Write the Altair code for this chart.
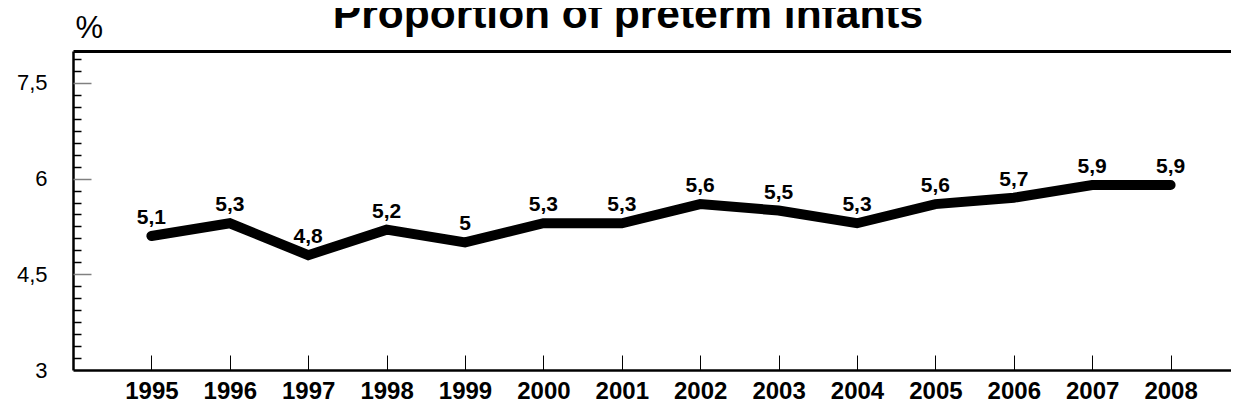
import altair as alt
import pandas as pd

years = [1995, 1996, 1997, 1998, 1999, 2000, 2001, 2002, 2003, 2004, 2005, 2006, 2007, 2008]
values = [5.1, 5.3, 4.8, 5.2, 5.0, 5.3, 5.3, 5.6, 5.5, 5.3, 5.6, 5.7, 5.9, 5.9]
y_labels = [3, 4.5, 6, 7.5]
major_ticks = [4.5, 6, 7.5]
minor_ticks = [3 + k * 0.1875 for k in range(1, 27) if k % 8 != 0]
all_ticks = sorted(minor_ticks + major_ticks)

df = pd.DataFrame({"year": years, "value": values})

W = 1166
H = 319
FONT = "Liberation Sans"

xscale = alt.Scale(domain=[1994, 1994 + W / 78.4], nice=False, zero=False)
yscale = alt.Scale(domain=[3, 8], nice=False, zero=False)

base = alt.Chart(df)

line = base.mark_line(color="black", strokeWidth=10, strokeCap="round", strokeJoin="miter").encode(
    x=alt.X("year:Q", scale=xscale,
            axis=alt.Axis(orient="bottom", values=years, format="d", title=None,
                          ticks=False, tickSize=0, grid=False,
                          labelFont=FONT, labelFontSize=24, labelFontWeight="bold",
                          labelColor="black", labelPadding=9, labelFlush=False,
                          labelOverlap=False, domainColor="black", domainWidth=2.5)),
    y=alt.Y("value:Q", scale=yscale,
            axis=alt.Axis(orient="left", values=y_labels,
                          labelExpr="replace(toString(datum.value), '.', ',')",
                          ticks=False, tickSize=0, grid=False,
                          labelFont=FONT, labelFontSize=22, labelColor="black",
                          labelPadding=26, domainColor="black", domainWidth=2.5,
                          title="%", titleAngle=0, titleX=2, titleY=-14,
                          titleAlign="left", titleBaseline="alphabetic",
                          titleFont=FONT, titleFontSize=31, titleFontWeight="normal",
                          titleColor="black")),
)

labels = base.transform_calculate(
    label="replace(toString(datum.value), '.', ',')"
).mark_text(font=FONT, fontSize=21, fontWeight="bold", color="black",
            baseline="alphabetic", dy=-12).encode(
    x=alt.X("year:Q", scale=xscale,
            axis=alt.Axis(orient="top", offset=-H, values=years, labels=False,
                          domain=False, grid=False, title=None, ticks=True,
                          tickSize=15, tickColor="black", tickWidth=1)),
    y=alt.Y("value:Q", scale=yscale,
            axis=alt.Axis(orient="right", offset=-W, values=all_ticks, labels=False,
                          domain=False, grid=False, title=None, ticks=True,
                          tickSize=alt.ExprRef("indexof([4.5, 6, 7.5], datum.value) >= 0 ? 18 : 8"),
                          tickColor=alt.ExprRef("indexof([4.5, 6, 7.5], datum.value) >= 0 ? '#808080' : 'black'"),
                          tickWidth=1.5)),
    text="label:N",
)

frame = base.mark_point(opacity=0).encode(
    x=alt.X("year:Q", scale=xscale,
            axis=alt.Axis(orient="top", labels=False, ticks=False, grid=False,
                          title=None, domainColor="black", domainWidth=3)),
    y=alt.Y("value:Q", scale=yscale, axis=None),
)

chart = alt.layer(frame, line, labels).resolve_axis(x="independent", y="independent").properties(
    width=W,
    height=H,
    background="white",
    title=alt.TitleParams(text="Proportion of preterm infants", font=FONT, fontSize=42.5,
                          fontWeight="bold", color="black", anchor="middle",
                          frame="group", dx=-28, dy=58, offset=0, baseline="alphabetic"),
    autosize=alt.AutoSizeParams(type="none"),
    padding={"left": 65, "top": 43, "right": -8, "bottom": 34},
).configure_view(stroke=None, strokeWidth=0)

chart.save("out.html", embed_options={"renderer": "svg", "actions": False})
